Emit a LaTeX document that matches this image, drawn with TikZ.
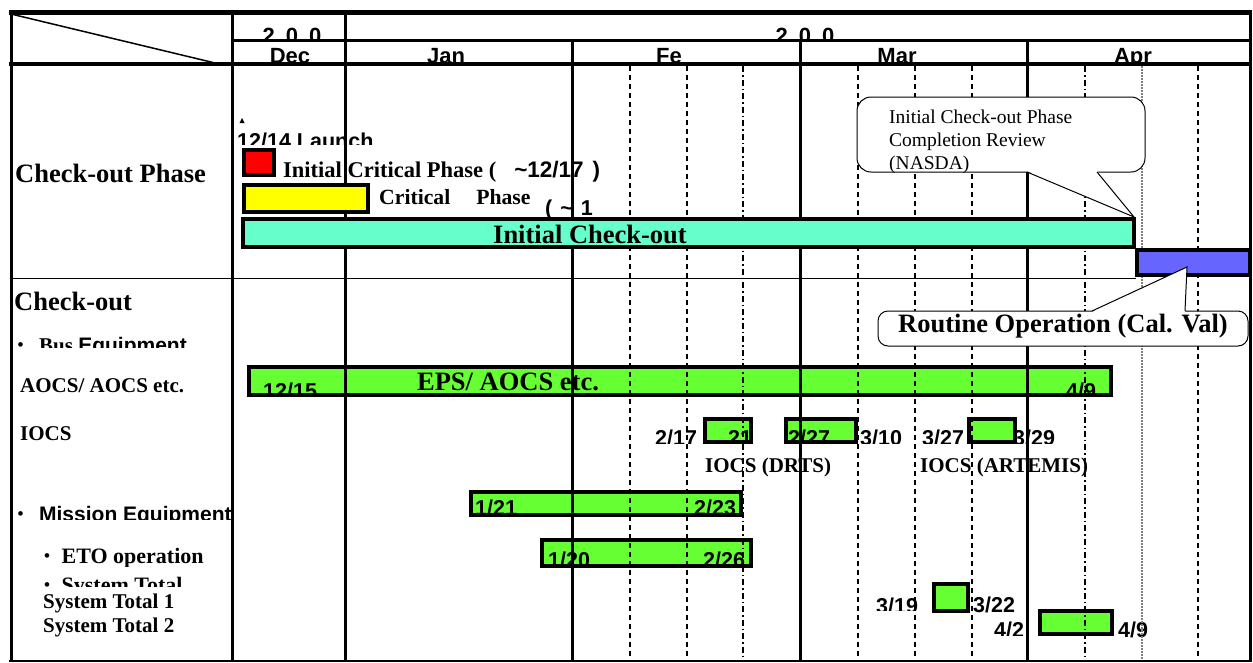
\documentclass[tikz,border=0pt]{standalone}
\usepackage{fontspec}
\setmainfont{Liberation Serif}
\setsansfont{Liberation Sans}
\usepackage{tikz}
\usetikzlibrary{positioning}

\definecolor{barGreen}{HTML}{66FF33}
\definecolor{checkCyan}{HTML}{66FFCC}
\definecolor{routineBlue}{HTML}{6666FF}
\definecolor{critRed}{HTML}{FF0000}
\definecolor{critYellow}{HTML}{FFFF00}

\newcommand{\setpx}[1]{\fontsize{#1pt}{#1pt}\selectfont}
\newcommand{\dotmark}{\raisebox{1.5pt}{\setpx{17}\textbullet}}

\begin{document}
\begin{tikzpicture}[
  x=1pt, y=-1pt,
  every node/.style={inner sep=0pt},
  head/.style     ={anchor=base west, font=\bfseries\setpx{26.5}},
  item/.style     ={anchor=base west, font=\bfseries\setpx{21}},
  date/.style     ={anchor=base west, font=\sffamily\bfseries\setpx{21.5}},
  month/.style    ={anchor=base, font=\sffamily\bfseries\setpx{22}},
  note/.style     ={anchor=base west, font=\setpx{19.5}},
  bar/.style      ={draw, line width=3.5pt, fill=barGreen},
  phasebar/.style ={draw, line width=3.5pt},
  gridline/.style ={line width=3pt},
  week/.style     ={line width=2.5pt, dash pattern=on 5pt off 4pt},
  thinweek/.style ={line width=1.6pt, dash pattern=on 6pt off 3pt on 1.5pt off 3pt},
  callout/.style  ={draw, fill=white, line width=1pt}
]
\useasboundingbox (0,0) rectangle (1253,662);

%--- Row titles ------------------------------------------------------------
\node[head] (phaseTitle) at (15,182) {Check-out Phase};
\node[head] (checkTitle) at (14,310) {Check-out};
\begin{scope}
  \clip (12,320) rectangle (231,347);
  \node[item] (busItem) at (17.5,352) {\dotmark\hspace{15.5pt}Bus {\sffamily Equipment}};
\end{scope}
\node[item] (aocsItem) at (20,392) {AOCS/ AOCS etc.};
\node[item] (iocsItem) at (20,440) {IOCS};
\begin{scope}
  \clip (12,495) rectangle (231,519);
  \node[item] (missionItem) at (17.5,521) {\dotmark\hspace{15.5pt}{\sffamily Mission Equipment}};
\end{scope}
\begin{scope}
  \clip (12,535) rectangle (231,566);
  \node[item, font=\bfseries\setpx{22}] (etoItem) at (44,563) {\dotmark\hspace{11.5pt}ETO operation};
\end{scope}
\begin{scope}
  \clip (12,570) rectangle (231,586);
  \node[item, font=\bfseries\setpx{22}] (totalItem) at (44,592) {\dotmark\hspace{11.5pt}System Total};
\end{scope}
\node[item] (totalOne) at (43,608) {System Total 1};
\node[item] (totalTwo) at (43,632) {System Total 2};

%--- Check-out phase texts --------------------------------------------------
\fill (239.5,123) -- (242,118) -- (244.5,123) -- cycle;
\begin{scope}
  \clip (233,120) rectangle (600,144);
  \node[date] (launch) at (237,148) {12/14 Launch};
\end{scope}
\node[item, font=\bfseries\setpx{22.5}] (initCrit) at (283,177)
  {Initial Critical Phase (\hspace{18pt}{\sffamily\textasciitilde 12/17\hspace{9pt})}};
\node[item, font=\bfseries\setpx{21.7}] (crit) at (379,204) {Critical\hspace{26pt}Phase};
\node[date] (critEnd) at (545,215) {(\hspace{8pt}\textasciitilde\hspace{8pt}1};

%--- Check-out bars ---------------------------------------------------------
\draw[bar] (249,367) rectangle (1111,395);
\begin{scope}
  \clip (249,369) rectangle (1111,394);
  \node[date] (epsStart) at (263,398) {12/15};
  \node[date] (epsEnd) at (1066,398) {4/9};
\end{scope}
\node[head, anchor=base] (epsText) at (508,390) {EPS/ AOCS etc.};

\begin{scope}
  \clip (640,420) rectangle (1100,443);
  \node[date] (artemisEnd) at (1013,445) {3/29};
\end{scope}
\draw[bar] (705,419) rectangle (751,442);
\draw[bar] (786,419) rectangle (856,442);
\draw[bar] (969,419) rectangle (1015,442);
\begin{scope}
  \clip (640,420) rectangle (1100,443);
  \node[date] (drtsStartA) at (655,445) {2/17};
  \node[date] (drtsEndA)   at (728,445) {21};
  \node[date] (drtsStartB) at (788,445) {2/27};
  \node[date] (drtsEndB)   at (860,445) {3/10};
  \node[date] (artemisStart) at (922,445) {3/27};
\end{scope}
\node[item] (drtsText) at (705,472) {IOCS (DRTS)};
\node[item] (artemisText) at (920,472) {IOCS (ARTEMIS)};

\draw[bar] (471,492) rectangle (741,515);
\begin{scope}
  \clip (471,494) rectangle (741,513.5);
  \node[date] (missionStart) at (475,515) {1/21};
  \node[date] (missionEnd) at (694,515) {2/23};
\end{scope}
\draw[bar] (542,540) rectangle (751,566);
\begin{scope}
  \clip (542,542) rectangle (751,565);
  \node[date] (etoStart) at (548,567) {1/20};
  \node[date] (etoEnd) at (703,567) {2/26};
\end{scope}

\draw[bar] (934,584) rectangle (968,611);
\begin{scope}
  \clip (860,590) rectangle (930,610);
  \node[date] (totalOneStart) at (876,613) {3/19};
\end{scope}
\node[date] (totalOneEnd) at (973,612) {3/22};
\draw[bar] (1040,611) rectangle (1112,634);
\begin{scope}
  \clip (980,615) rectangle (1036,635);
  \node[date] (totalTwoStart) at (994,637.5) {4/2};
\end{scope}
\node[date] (totalTwoEnd) at (1118,637) {4/9};

%--- Calendar grid ----------------------------------------------------------
\begin{scope}
  \clip (232,14) rectangle (1250,38.5);
  \node[month] (yearDec) at (292,43) {2\hspace{11pt}0\hspace{11pt}0};
  \node[month] (yearJan) at (805,43) {2\hspace{11pt}0\hspace{11pt}0};
\end{scope}
\begin{scope}
  \clip (232,41) rectangle (1250,62);
  \node[month] (dec) at (290,63.5) {Dec};
  \node[month] (jan) at (446,63.5) {Jan};
  \node[month] (feb) at (669,63.5) {Fe};
  \node[month] (mar) at (897,63.5) {Mar};
  \node[month] (apr) at (1133,63.5) {Apr};
\end{scope}

\foreach \wx in {630,687,858,915,972,1198}
  \draw[week] (\wx,66) -- (\wx,660);
\foreach \wx in {743,1085}
  \draw[thinweek] (\wx,66) -- (\wx,660);
\draw[line width=1.5pt, gray, dash pattern=on 1.5pt off 1.5pt] (1142,66) -- (1142,660);

\draw[line width=1pt] (11,278) -- (1136,278);
\foreach \mx in {232,345}
  \draw[gridline] (\mx,12) -- (\mx,661);
\foreach \mx in {572,800,1027}
  \draw[gridline] (\mx,40) -- (\mx,661);
\draw[gridline] (11,12) -- (11,661);
\draw[gridline] (1250,12) -- (1250,661);
\draw[line width=5pt] (9,12) -- (1252,12);
\draw[gridline] (232,40) -- (1250,40);
\draw[line width=4.5pt] (9,64) -- (1252,64);
\draw[line width=2pt] (9,661) -- (1252,661);
\draw[line width=1.5pt] (11,14) -- (215,63);

%--- Phase bars ------------------------------------------------------------
\draw[phasebar, fill=critRed] (244,150) rectangle (274,175);
\draw[phasebar, fill=critYellow] (244,185) rectangle (368,212);
\draw[phasebar, fill=checkCyan] (243,219) rectangle (1134,247);
\node[head, anchor=base] (checkText) at (590,243) {Initial Check-out};
\draw[phasebar, fill=routineBlue] (1137,250) rectangle (1250,275);

%--- Callouts ---------------------------------------------------------------
\draw[callout, rounded corners=14pt] (857,97) rectangle (1145,172);
\fill[white] (1027,171) -- (1134,217) -- (1097,171) -- cycle;
\draw[line width=1pt] (1027,172) -- (1134,217) -- (1097,172);
\node[note] (reviewA) at (889,123) {Initial Check-out Phase};
\node[note] (reviewB) at ([yshift=-23pt]reviewA.base west) {Completion Review};
\node[note] (reviewC) at ([yshift=-23pt]reviewB.base west) {(NASDA)};

\draw[callout, rounded corners=10pt] (878,311) rectangle (1248,346);
\fill[white] (1092,312) -- (1187,267) -- (1185,312) -- cycle;
\draw[line width=1pt] (1092,311) -- (1187,267) -- (1185,311);
\node[head, anchor=base] (routineText) at (1063,332) {Routine Operation (Cal. Val)};
\end{tikzpicture}
\end{document}
